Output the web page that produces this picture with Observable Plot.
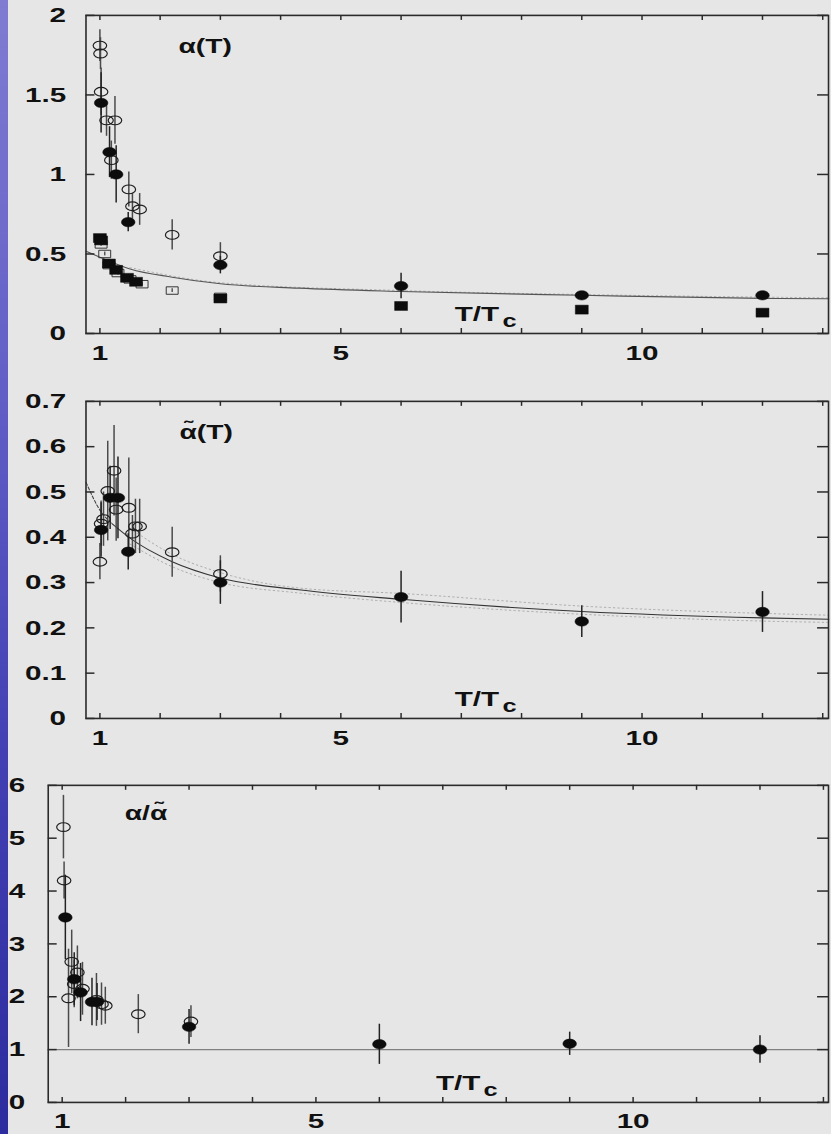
<!DOCTYPE html>
<html><head><meta charset="utf-8">
<script src="https://cdn.jsdelivr.net/npm/d3@7"></script>
<script src="https://cdn.jsdelivr.net/npm/@observablehq/plot@0.6"></script>
<style>
html,body{margin:0;padding:0;background:#e6e6e6;overflow:hidden;width:831px;height:1134px;position:relative}
#strip{position:absolute;left:0;top:0;width:8px;height:1134px;background:linear-gradient(#7f7cd2,#615ec6 35%,#4341b4 65%,#2d2c9f)}
.panel{position:absolute;left:0}
.panel svg{display:block}
</style></head><body>
<div id="strip"></div>
<div id="p1" class="panel" style="top:0px"></div>
<div id="p2" class="panel" style="top:380px"></div>
<div id="p3" class="panel" style="top:760px"></div>
<script>
// ---------- axis ticks ----------
const xTicks = [1,2,3,4,5,6,7,8,9,10,11,12,13];
const xTickLabels = [1,5,10];
const p1YTicks = [0,0.5,1,1.5,2];
const p2YTicks = [0,0.1,0.2,0.3,0.4,0.5,0.6,0.7];
const p3YTicks = [0,1,2,3,4,5,6];
const xTitleMain = "T/T";
const xTitleSub = "c";
const p1Title = "α(T)";
const p2Title = "α̃(T)";
const p3Title = "α/α̃";

// ---------- panel 1 : alpha(T) ----------
const p1OpenT   = [1.00, 1.01, 1.02, 1.11, 1.25, 1.19, 1.48, 1.54, 1.66, 2.2, 3.0];
const p1OpenV   = [1.81, 1.76, 1.52, 1.34, 1.34, 1.09, 0.906, 0.80, 0.78, 0.62, 0.486];
const p1OpenE   = [0.10, 0.10, 0.15, 0.10, 0.15, 0.12, 0.11, 0.08, 0.10, 0.095, 0.085];
const p1FilledT = [1.02, 1.16, 1.27, 1.47, 3.0, 6.0, 9.0, 12.0];
const p1FilledV = [1.45, 1.14, 1.00, 0.70, 0.43, 0.298, 0.24, 0.24];
const p1FilledE = [0.19, 0.16, 0.18, 0.06, 0.055, 0.08, 0.015, 0.025];
const p1OpenSqT = [1.02, 1.08, 1.15, 1.30, 1.50, 1.70, 2.2, 3.0];
const p1OpenSqV = [0.56, 0.50, 0.43, 0.38, 0.34, 0.31, 0.27, 0.23];
const p1FilledSqT = [1.00, 1.02, 1.15, 1.27, 1.45, 1.60, 3.0, 6.0, 9.0, 12.0];
const p1FilledSqV = [0.60, 0.585, 0.44, 0.40, 0.35, 0.325, 0.22, 0.173, 0.15, 0.131];
const p1FitT = [0.77, 1.0, 1.5, 2.2, 3.0, 4.3, 6.0, 9.0, 12.0, 13.1];
const p1FitV = [0.517, 0.48, 0.406, 0.354, 0.3125, 0.285, 0.264, 0.24, 0.221, 0.218];
const p1BandT = [1.5, 3.0, 6.0, 9.0, 13.1];
const p1BandV = [0.414, 0.319, 0.27, 0.245, 0.224];

// ---------- panel 2 : alpha-tilde(T) ----------
const p2OpenT   = [1.00, 1.02, 1.06, 1.13, 1.235, 1.27, 1.48, 1.54, 1.59, 1.66, 2.2, 3.0];
const p2OpenV   = [0.346, 0.43, 0.44, 0.502, 0.547, 0.461, 0.465, 0.408, 0.424, 0.424, 0.367, 0.319];
const p2OpenE   = [0.04, 0.05, 0.06, 0.11, 0.10, 0.07, 0.11, 0.04, 0.06, 0.06, 0.055, 0.04];
const p2FilledT = [1.02, 1.17, 1.30, 1.47, 3.0, 6.0, 9.0, 12.0];
const p2FilledV = [0.416, 0.487, 0.487, 0.368, 0.30, 0.268, 0.214, 0.235];
const p2FilledE = [0.06, 0.07, 0.09, 0.04, 0.048, 0.057, 0.035, 0.045];
const p2FitT = [1.2, 1.5, 2.2, 3.0, 4.3, 6.0, 9.0, 12.0, 13.1];
const p2FitV = [0.43, 0.398, 0.346, 0.31, 0.284, 0.263, 0.236, 0.222, 0.219];
const p2ExtT = [0.77, 1.0, 1.2];
const p2ExtV = [0.521, 0.46, 0.43];
const p2UpT = [1.5, 2.2, 3.0, 4.3, 6.0, 9.0, 12.0, 13.1];
const p2UpV = [0.42, 0.362, 0.322, 0.288, 0.276, 0.248, 0.232, 0.228];
const p2LoT = [1.5, 2.2, 3.0, 4.3, 6.0, 9.0, 12.0, 13.1];
const p2LoV = [0.385, 0.335, 0.30, 0.277, 0.256, 0.23, 0.215, 0.212];

// ---------- panel 3 : alpha / alpha-tilde ----------
const p3OpenT   = [1.02, 1.03, 1.10, 1.15, 1.19, 1.24, 1.32, 1.54, 1.62, 1.68, 2.2, 3.03];
const p3OpenV   = [5.21, 4.20, 1.97, 2.66, 2.24, 2.46, 2.15, 1.94, 1.86, 1.83, 1.67, 1.53];
const p3OpenE   = [0.60, 0.35, 0.93, 0.60, 0.45, 0.50, 0.50, 0.50, 0.40, 0.35, 0.37, 0.30];
const p3FilledT = [1.05, 1.19, 1.29, 1.47, 1.55, 3.0, 6.0, 9.0, 12.0];
const p3FilledV = [3.50, 2.33, 2.08, 1.90, 1.90, 1.43, 1.10, 1.11, 1.00];
const p3FilledE = [0.80, 0.50, 0.55, 0.45, 0.35, 0.33, 0.38, 0.22, 0.26];
const p3RefLine = [1];

// ---------- helpers ----------
const rows = (T, V, E) => T.map((t, i) => ({T: t, v: V[i], e: E ? E[i] : 0}));
const ellipse = (a, b) => ({draw(ctx) {
  const k = 0.5523;
  ctx.moveTo(a, 0);
  ctx.bezierCurveTo(a, b*k, a*k, b, 0, b);
  ctx.bezierCurveTo(-a*k, b, -a, b*k, -a, 0);
  ctx.bezierCurveTo(-a, -b*k, -a*k, -b, 0, -b);
  ctx.bezierCurveTo(a*k, -b, a, -b*k, a, 0);
  ctx.closePath();
}});
const rectSym = (w, h) => ({draw(ctx) { ctx.rect(-w/2, -h/2, w, h); }});
const FONT = "'Liberation Sans', Arial, Helvetica, sans-serif";
const STRETCH = 1.42;

function stretchText(svg) {
  svg.querySelectorAll("text").forEach(t => {
    const tr = t.getAttribute("transform") || "";
    t.setAttribute("transform", tr + ` scale(${STRETCH},1)`);
  });
}

function panel(cfg) {
  const W = 836, MR = 3;
  const plotW = W - MR - cfg.ml;
  const H = cfg.mt + cfg.ph + cfg.mb;
  const tickStroke = "#2a2a2a";
  const marks = [];
  (cfg.under || []).forEach(m => marks.push(m));
  // ticks (inward on all sides)
  marks.push(Plot.tickX(xTicks, {x: d => d, insetTop: cfg.ph - 5, stroke: tickStroke, strokeWidth: 1.5}));
  marks.push(Plot.tickX(xTicks, {x: d => d, insetBottom: cfg.ph - 5, stroke: tickStroke, strokeWidth: 1.5}));
  marks.push(Plot.tickY(cfg.yTicks, {y: d => d, insetRight: plotW - 9, stroke: tickStroke, strokeWidth: 1.5}));
  marks.push(Plot.tickY(cfg.yTicks, {y: d => d, insetLeft: plotW - 11, stroke: tickStroke, strokeWidth: 1.5}));
  // error bars
  cfg.series.forEach(s => {
    marks.push(Plot.ruleX(s.data.filter(d => d.e > 0), {x: "T", y1: d => d.v - d.e, y2: d => d.v + d.e,
      stroke: s.bar, strokeWidth: 1.5}));
  });
  // markers
  cfg.series.forEach(s => {
    marks.push(Plot.dot(s.data, {x: "T", y: "v", r: 5, symbol: s.symbol,
      fill: s.fill, stroke: s.stroke, strokeWidth: s.sw}));
  });
  marks.push(Plot.frame({stroke: "#2a2a2a", strokeWidth: 1.6}));
  // tick labels
  marks.push(Plot.text(cfg.yTicks, {y: d => d, frameAnchor: "left", dx: cfg.ydx, textAnchor: "end",
    text: d => String(d), fontSize: 21, fontWeight: "bold", fill: "#111", fontFamily: FONT}));
  marks.push(Plot.text(xTickLabels, {x: d => d, frameAnchor: "bottom", dy: 19.5, lineAnchor: "middle",
    text: d => String(d), fontSize: 21, fontWeight: "bold", fill: "#111", fontFamily: FONT}));
  // x title inside the frame
  marks.push(Plot.text([xTitleMain], {frameAnchor: "bottom-left", dx: cfg.tx, dy: -19.5, lineAnchor: "middle",
    textAnchor: "start", text: d => d, fontSize: 21, fontWeight: "bold", fill: "#111", fontFamily: FONT}));
  marks.push(Plot.text([xTitleSub], {frameAnchor: "bottom-left", dx: cfg.tx + 48, dy: -12.5, lineAnchor: "middle",
    textAnchor: "start", text: d => d, fontSize: 18, fontWeight: "bold", fill: "#111", fontFamily: FONT}));
  // panel title
  marks.push(Plot.text([cfg.title], {frameAnchor: "top-left", dx: cfg.titleDx, dy: cfg.titleDy, lineAnchor: "middle",
    textAnchor: "start", text: d => d, fontSize: 20, fontWeight: "bold", fill: "#111", fontFamily: FONT}));

  const svg = Plot.plot({
    width: W, height: H,
    marginLeft: cfg.ml, marginRight: MR, marginTop: cfg.mt, marginBottom: cfg.mb,
    x: {domain: cfg.xDomain, axis: null},
    y: {domain: cfg.yDomain, axis: null},
    style: {background: "transparent", overflow: "visible", fontFamily: FONT},
    marks
  });
  stretchText(svg);
  document.getElementById(cfg.el).appendChild(svg);
}

const openCircle = {symbol: ellipse(6.8, 4.4), fill: "none", stroke: "#1e1e1e", sw: 1.2, bar: "#4a4a4a"};
const filledCircle = {symbol: ellipse(6.8, 4.7), fill: "#0c0c0c", stroke: "#0c0c0c", sw: 0.5, bar: "#222"};
const openSquare = {symbol: rectSym(12, 7.5), fill: "none", stroke: "#333", sw: 1, bar: "#555"};
const filledSquare = {symbol: rectSym(13, 9), fill: "#0c0c0c", stroke: "#0c0c0c", sw: 0.5, bar: "#222"};

// Panel 1
panel({
  el: "p1", ml: 86, mt: 15, ph: 320, mb: 40,
  xDomain: [0.769, 13.096], yDomain: [0, 2], yTicks: p1YTicks, ydx: -20, tx: 371,
  title: p1Title, titleDx: 93, titleDy: 31.5,
  under: [
    Plot.line(rows(p1BandT, p1BandV), {x: "T", y: "v", curve: "monotone-x", stroke: "#aaa", strokeWidth: 1, strokeDasharray: "1.5,3"}),
    Plot.line(rows(p1FitT, p1FitV), {x: "T", y: "v", curve: "monotone-x", stroke: "#555", strokeWidth: 1.1})
  ],
  series: [
    {...openSquare, data: rows(p1OpenSqT, p1OpenSqV, p1OpenSqT.map(() => 0.012))},
    {...filledSquare, data: rows(p1FilledSqT, p1FilledSqV)},
    {...openCircle, data: rows(p1OpenT, p1OpenV, p1OpenE)},
    {...filledCircle, data: rows(p1FilledT, p1FilledV, p1FilledE)}
  ]
});

// Panel 2
panel({
  el: "p2", ml: 86, mt: 21, ph: 319, mb: 40,
  xDomain: [0.769, 13.096], yDomain: [0, 0.7], yTicks: p2YTicks, ydx: -20, tx: 371,
  title: p2Title, titleDx: 94, titleDy: 31,
  under: [
    Plot.line(rows(p2UpT, p2UpV), {x: "T", y: "v", curve: "monotone-x", stroke: "#aaa", strokeWidth: 1, strokeDasharray: "1.5,3"}),
    Plot.line(rows(p2LoT, p2LoV), {x: "T", y: "v", curve: "monotone-x", stroke: "#aaa", strokeWidth: 1, strokeDasharray: "1.5,3"}),
    Plot.line(rows(p2ExtT, p2ExtV), {x: "T", y: "v", curve: "monotone-x", stroke: "#444", strokeWidth: 1.1, strokeDasharray: "3,2"}),
    Plot.line(rows(p2FitT, p2FitV), {x: "T", y: "v", curve: "monotone-x", stroke: "#333", strokeWidth: 1.1})
  ],
  series: [
    {...openCircle, data: rows(p2OpenT, p2OpenV, p2OpenE)},
    {...filledCircle, data: rows(p2FilledT, p2FilledV, p2FilledE)}
  ]
});

// Panel 3
panel({
  el: "p3", ml: 48, mt: 25, ph: 319, mb: 30,
  xDomain: [0.78, 13.08], yDomain: [0, 6], yTicks: p3YTicks, ydx: -23, tx: 390,
  title: p3Title, titleDx: 77, titleDy: 28,
  under: [
    Plot.ruleY(p3RefLine, {y: d => d, stroke: "#808080", strokeWidth: 1.3})
  ],
  series: [
    {...openCircle, data: rows(p3OpenT, p3OpenV, p3OpenE)},
    {...filledCircle, data: rows(p3FilledT, p3FilledV, p3FilledE)}
  ]
});
</script>
</body></html>
